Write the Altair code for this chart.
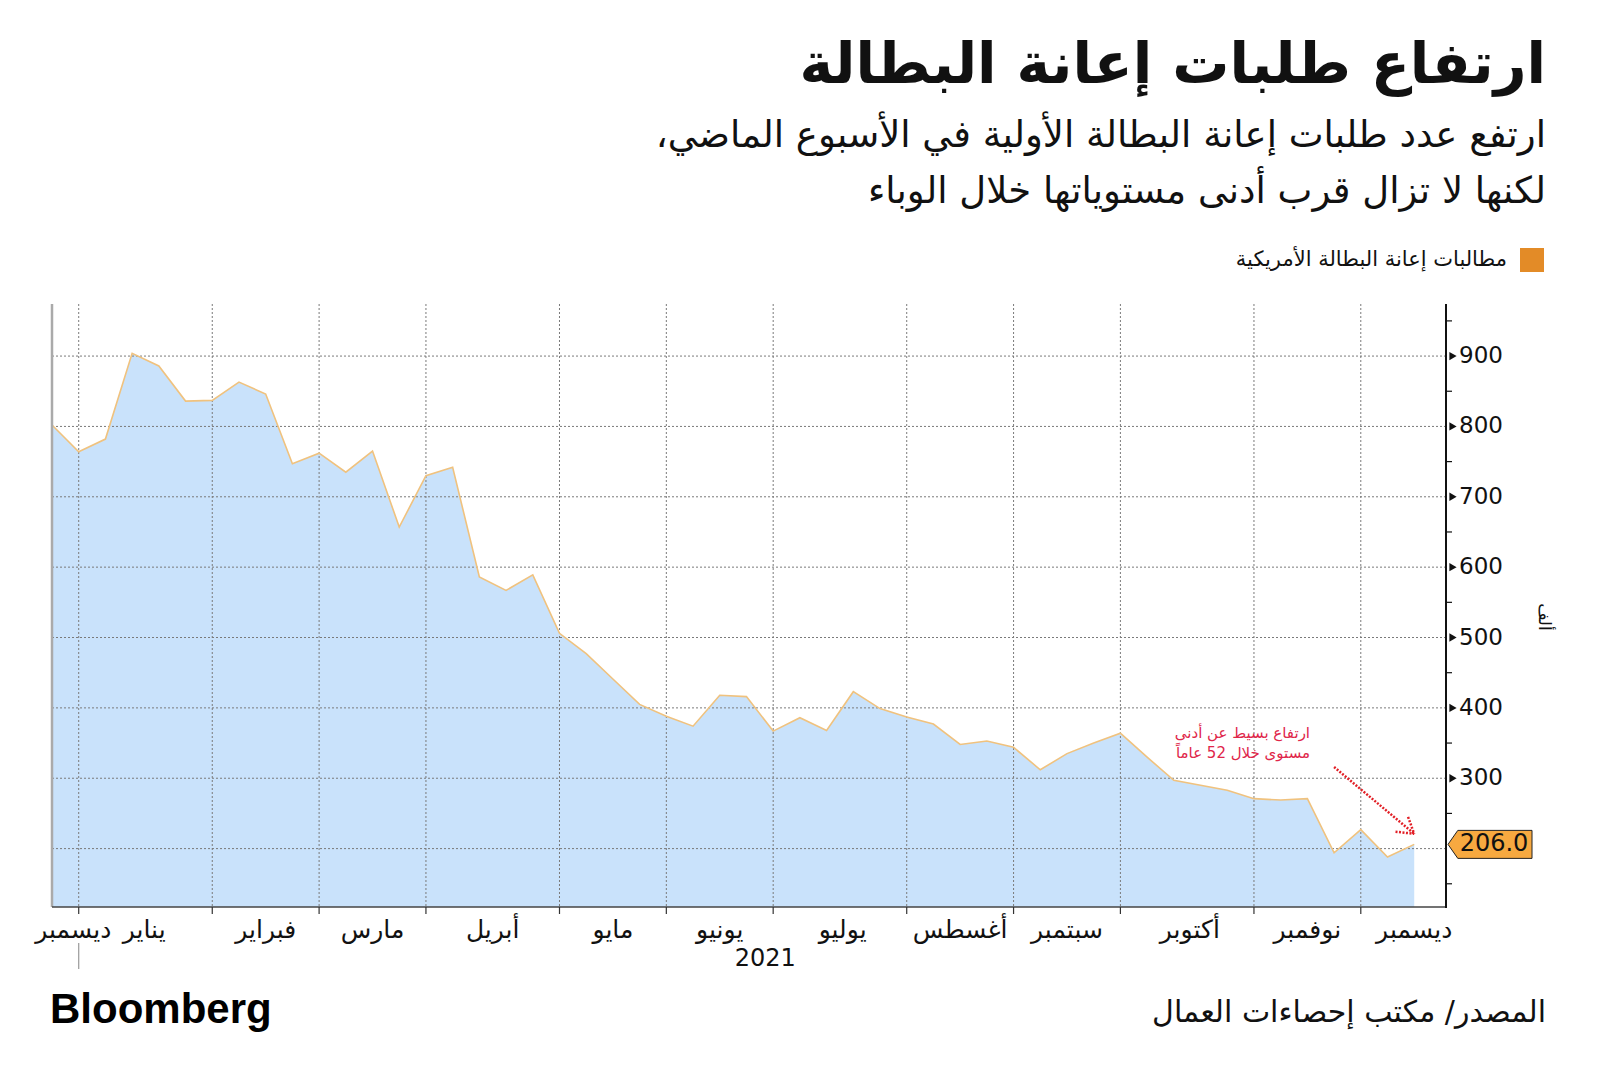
import altair as alt
import pandas as pd

# ---- data ----
claims = [802, 764, 782, 904, 886, 836, 837, 863, 846, 747, 762, 735, 765, 657, 730,
          742, 586, 567, 589, 506, 477, 441, 405, 388, 374, 418, 416, 367, 386, 368,
          423, 399, 387, 377, 348, 353, 344, 312, 335, 350, 364, 330, 297, 290, 283,
          271, 269, 271, 194, 227, 188, 206]
month_breaks = [1, 6, 10, 14, 19, 23, 27, 32, 36, 40, 45, 49]
month_names = ["ديسمبر", "يناير", "فبراير", "مارس", "أبريل", "مايو", "يونيو",
               "يوليو", "أغسطس", "سبتمبر", "أكتوبر", "نوفمبر", "ديسمبر"]
month_pos = [0.8, 3.45, 8, 12, 16.5, 21, 25, 29.6, 34, 38, 42.6, 47, 51]
y_labels = [300, 400, 500, 600, 700, 800, 900]
y_grid = [200, 300, 400, 500, 600, 700, 800, 900]
y_minor = [150, 250, 350, 450, 550, 650, 750, 850, 950]
y_floor = 117
last_value = 206.0

title = "ارتفاع طلبات إعانة البطالة"
sub1 = "ارتفع عدد طلبات إعانة البطالة الأولية في الأسبوع الماضي،\u200f"
sub2 = "لكنها لا تزال قرب أدنى مستوياتها خلال الوباء"
legend_label = "مطالبات إعانة البطالة الأمريكية"
source = "المصدر/ مكتب إحصاءات العمال"
unit = "ألف"
note1 = "ارتفاع بسيط عن أدنى"
note2 = "مستوى خلال 52 عاماً"
year = "2021"

W, H = 1394, 603
FONT = "DejaVu Sans"
XS = alt.Scale(domain=[0, 52.19], nice=False, zero=False)
YS = alt.Scale(domain=[y_floor, 974], nice=False, zero=False)

df = pd.DataFrame({"i": list(range(len(claims))), "v": claims})
gx = pd.DataFrame({"i": month_breaks})
gy = pd.DataFrame({"v": y_grid})
ylab = pd.DataFrame({"v": y_labels, "t": [str(v) for v in y_labels]})
ymin = pd.DataFrame({"v": y_minor})
months = pd.DataFrame({"i": month_pos, "t": month_names})

X = lambda f="i": alt.X(f"{f}:Q", scale=XS, axis=None)
Y = lambda f="v": alt.Y(f"{f}:Q", scale=YS, axis=None)

area = alt.Chart(df).mark_area(color="#C9E2FB", opacity=1).encode(
    x=X(), y=Y(), y2=alt.datum(y_floor))
line = alt.Chart(df).mark_line(color="#F0C27E", strokeWidth=1.6).encode(x=X(), y=Y())

dash = [2, 2]
hgrid = alt.Chart(gy).mark_rule(color="#7a7a7a", strokeDash=dash, strokeWidth=1).encode(
    y=Y(), x=alt.value(0), x2=alt.value(W))
vgrid = alt.Chart(gx).mark_rule(color="#7a7a7a", strokeDash=dash, strokeWidth=1).encode(
    x=X(), y=alt.value(0), y2=alt.value(H))

frame = pd.DataFrame({"k": [0]})
left_border = alt.Chart(frame).mark_rule(color="#aaaaaa", strokeWidth=2.5).encode(
    x=alt.value(0), y=alt.value(0), y2=alt.value(H))
bottom_axis = alt.Chart(frame).mark_rule(color="#444444", strokeWidth=1.5).encode(
    x=alt.value(0), x2=alt.value(W), y=alt.value(H))
right_axis = alt.Chart(frame).mark_rule(color="#111111", strokeWidth=2).encode(
    x=alt.value(W), y=alt.value(0), y2=alt.value(H + 1))

xticks = alt.Chart(gx).mark_rule(color="#333333", strokeWidth=1.2).encode(
    x=X(), y=alt.value(H), y2=alt.value(H + 7))
year_sep = alt.Chart(pd.DataFrame({"i": [month_breaks[0]]})).mark_rule(
    color="#999999", strokeWidth=1.2).encode(x=X(), y=alt.value(H + 36), y2=alt.value(H + 62))

ytri = alt.Chart(ylab).mark_point(shape="triangle-right", filled=True, color="#111111",
                                  size=70, opacity=1).encode(y=Y(), x=alt.value(W + 7))
yminor = alt.Chart(ymin).mark_rule(color="#111111", strokeWidth=1.2).encode(
    y=Y(), x=alt.value(W), x2=alt.value(W + 6))
ytext = alt.Chart(ylab).mark_text(align="left", baseline="middle", font=FONT,
                                  fontSize=23, color="#111111").encode(
    y=Y(), x=alt.value(W + 13), text="t:N")

lastdf = pd.DataFrame({"v": [last_value], "t": [f"{last_value:.1f}"]})
tag = alt.Chart(lastdf).mark_point(
    shape="M -3 0 L -2.3 -1 L 3 -1 L 3 1 L -2.3 1 Z", size=784, filled=True,
    fill="#F7A940", stroke="#222222", strokeWidth=1, opacity=1).encode(
    y=Y(), x=alt.value(W + 44))
tagtext = alt.Chart(lastdf).mark_text(align="center", baseline="middle", font=FONT,
                                      fontSize=24, color="#111111").encode(
    y=Y(), x=alt.value(W + 48), text="t:N")

mtext = alt.Chart(months).mark_text(align="center", baseline="middle", font=FONT,
                                    fontSize=25, color="#111111").encode(
    x=X(), y=alt.value(H + 23), text="t:N")
ytxt = alt.Chart(pd.DataFrame({"i": [26.7], "t": [year]})).mark_text(
    align="center", baseline="middle", font=FONT, fontSize=24, color="#111111").encode(
    x=X(), y=alt.value(H + 52), text="t:N")

notes = pd.DataFrame({"i": [47.1, 47.1], "v": [365, 336], "t": [note1, note2]})
notetext = alt.Chart(notes).mark_text(align="right", baseline="middle", font=FONT,
                                      fontSize=15, color="#E0264A").encode(
    x=X(), y=Y(), text="t:N")

arrow = pd.DataFrame({"i": [48.0, 50.77, 50.3], "v": [316, 245, 224],
                      "i2": [51.0, 51.0, 51.0], "v2": [221, 221, 221]})
arrows = alt.Chart(arrow).mark_rule(color="#E21F26", strokeWidth=2.5,
                                    strokeDash=[2, 1.5]).encode(
    x=X(), y=Y(), x2="i2:Q", y2="v2:Q")


def label(text, x, y, size, weight="normal", align="right", font=FONT, color="#111111", angle=0):
    return alt.Chart(pd.DataFrame({"t": [text]})).mark_text(
        align=align, baseline="middle", font=font, fontSize=size, fontWeight=weight,
        color=color, angle=angle).encode(x=alt.value(x), y=alt.value(y), text="t:N")


t_title = label(title, 1494, -238, 57, "bold")
t_sub1 = label(sub1, 1494, -168, 37)
t_sub2 = label(sub2, 1494, -112, 37)
legend_sq = alt.Chart(frame).mark_square(color="#E38B27", size=576, opacity=1).encode(
    x=alt.value(1480), y=alt.value(-44))
legend_tx = label(legend_label, 1455, -44, 21)
t_unit = label(unit, 1492, 313, 17, align="center", angle=90)
t_source = label(source, 1494, 709, 30)
t_logo = label("Bloomberg", -2, 706, 42, "bold", align="left", font="Liberation Sans",
               color="#000000")

chart = alt.layer(
    area, hgrid, vgrid, line, left_border, bottom_axis, right_axis, xticks, year_sep,
    ytri, yminor, ytext, tag, tagtext, mtext, ytxt, notetext, arrows,
    t_title, t_sub1, t_sub2, legend_sq, legend_tx, t_unit, t_source, t_logo
).properties(
    width=W, height=H,
    autosize=alt.AutoSizeParams(type="none"),
    padding={"left": 52, "top": 304, "right": 154, "bottom": 182},
    background="#ffffff"
).configure_view(stroke=None)

chart.save("out.html", embed_options={"renderer": "svg", "actions": False})
